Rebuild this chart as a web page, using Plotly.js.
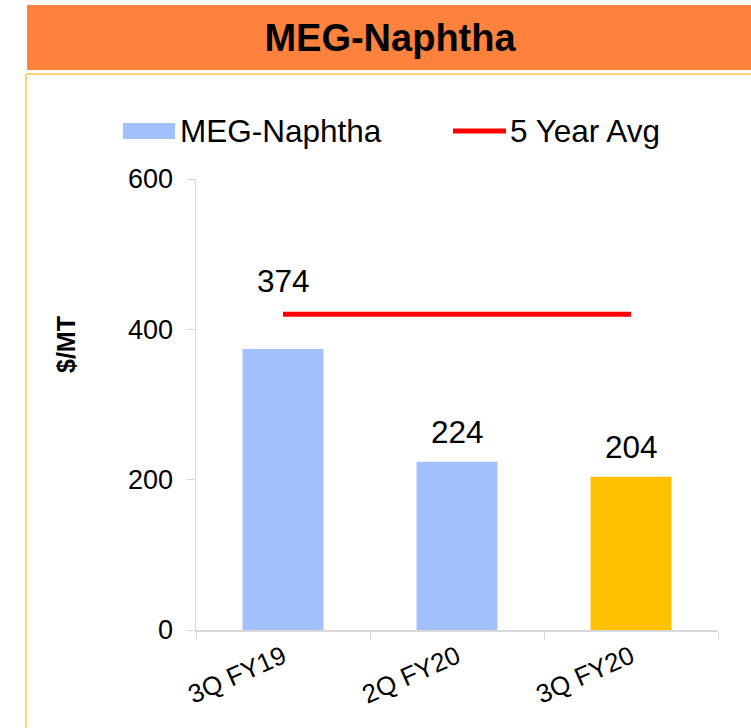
<!DOCTYPE html>
<html>
<head>
<meta charset="utf-8">
<script src="https://cdn.plot.ly/plotly-3.0.1.min.js"></script>
<style>html,body{margin:0;padding:0;background:#fff;}#chart{width:751px;height:728px;}</style>
</head>
<body>
<div id="chart"></div>
<script>
// ---- data ----
const categories = ["3Q FY19", "2Q FY20", "3Q FY20"];
const megNaphtha = [374, 224, 204];
const fiveYearAvg = [420, 420, 420];
const yTicks = [0, 200, 400, 600];
const seriesNames = ["MEG-Naphtha", "5 Year Avg"];
const chartTitle = "MEG-Naphtha";
const yTitle = "$/MT";

// ---- styling ----
const barBlue = "#A1C0FD";
const barColors = [barBlue, barBlue, "#FFC000"];
const avgColor = "#FF0000";
const labelShift = [68, 30, 30];
const FONT = "Liberation Sans, Arial, sans-serif";

// plot area pixel geometry (for paper-coordinate decorations)
const W = 751, H = 728, L = 196, R = 33, T = 179, B = 98;
const pw = W - L - R, ph = H - T - B;
const px = x => (x - L) / pw;
const py = y => (H - B - y) / ph;

const traces = [
  {
    type: "bar", name: seriesNames[0], x: categories, y: megNaphtha,
    marker: {color: barColors}, width: 0.465, hoverinfo: "none", showlegend: false
  },
  {
    type: "scatter", mode: "lines", name: seriesNames[1], x: categories, y: fiveYearAvg,
    line: {color: avgColor, width: 5}, hoverinfo: "none", showlegend: false
  }
];

const annotations = categories.map((c, i) => ({
  x: c, y: megNaphtha[i], xref: "x", yref: "y", text: String(megNaphtha[i]),
  showarrow: false, yanchor: "middle", yshift: labelShift[i],
  font: {family: FONT, size: 31.5, color: "#000"}
}));
// legend texts
annotations.push(
  {xref: "paper", yref: "paper", x: px(178), y: py(131), xanchor: "left", yanchor: "middle",
   text: seriesNames[0], showarrow: false, font: {family: FONT, size: 31.5, color: "#000"}},
  {xref: "paper", yref: "paper", x: px(508), y: py(131), xanchor: "left", yanchor: "middle",
   text: seriesNames[1], showarrow: false, font: {family: FONT, size: 31.5, color: "#000"}},
  // y axis title
  {xref: "paper", yref: "paper", x: px(66), y: py(345), xanchor: "center", yanchor: "middle",
   text: "<b>" + yTitle + "</b>", textangle: -90, showarrow: false,
   font: {family: FONT, size: 25, color: "#000"}}
);

const shapes = [
  {type: "rect", xref: "paper", yref: "paper", x0: px(27), x1: px(760), y0: py(70), y1: py(5),
   fillcolor: "#FF823C", line: {width: 0}, layer: "below"},
  {type: "line", xref: "paper", yref: "paper", x0: px(26), x1: px(760), y0: py(74), y1: py(74),
   line: {color: "#FFD37A", width: 2}},
  {type: "line", xref: "paper", yref: "paper", x0: px(26), x1: px(26), y0: py(74), y1: py(740),
   line: {color: "#FFD37A", width: 2}},
  // legend swatches
  {type: "rect", xref: "paper", yref: "paper", x0: px(123), x1: px(175), y0: py(139), y1: py(123),
   fillcolor: barBlue, line: {width: 0}},
  {type: "line", xref: "paper", yref: "paper", x0: px(453), x1: px(506), y0: py(131), y1: py(131),
   line: {color: avgColor, width: 5}}
];

const layout = {
  width: W, height: H,
  margin: {l: L, r: R, t: T, b: B, pad: 0},
  paper_bgcolor: "#FFFFFF", plot_bgcolor: "#FFFFFF",
  font: {family: FONT, color: "#000"},
  title: {
    text: "<b>" + chartTitle + "</b>", xref: "container", yref: "container",
    x: 390 / W, y: 1 - 38 / H, xanchor: "center", yanchor: "middle",
    font: {family: FONT, size: 38, color: "#000"}
  },
  showlegend: false,
  xaxis: {
    type: "category", range: [-0.5, 2.5], tickangle: -24,
    showline: true, linecolor: "#D9D9D9", linewidth: 1.5,
    ticks: "outside", tickson: "boundaries", ticklen: 8, tickcolor: "#D9D9D9",
    tickfont: {size: 26, color: "#000"}, showgrid: false, zeroline: false, fixedrange: true
  },
  yaxis: {
    range: [0, 600], tickvals: yTicks, ticktext: yTicks.map(String),
    showline: true, linecolor: "#D9D9D9", linewidth: 1.5,
    ticks: "outside", ticklen: 9, tickcolor: "#D9D9D9", ticklabelstandoff: 7,
    tickfont: {size: 27, color: "#000"}, showgrid: false, zeroline: false, fixedrange: true
  },
  shapes: shapes,
  annotations: annotations,
  bargap: 0.535
};

Plotly.newPlot("chart", traces, layout, {displayModeBar: false, staticPlot: true});
</script>
</body>
</html>
